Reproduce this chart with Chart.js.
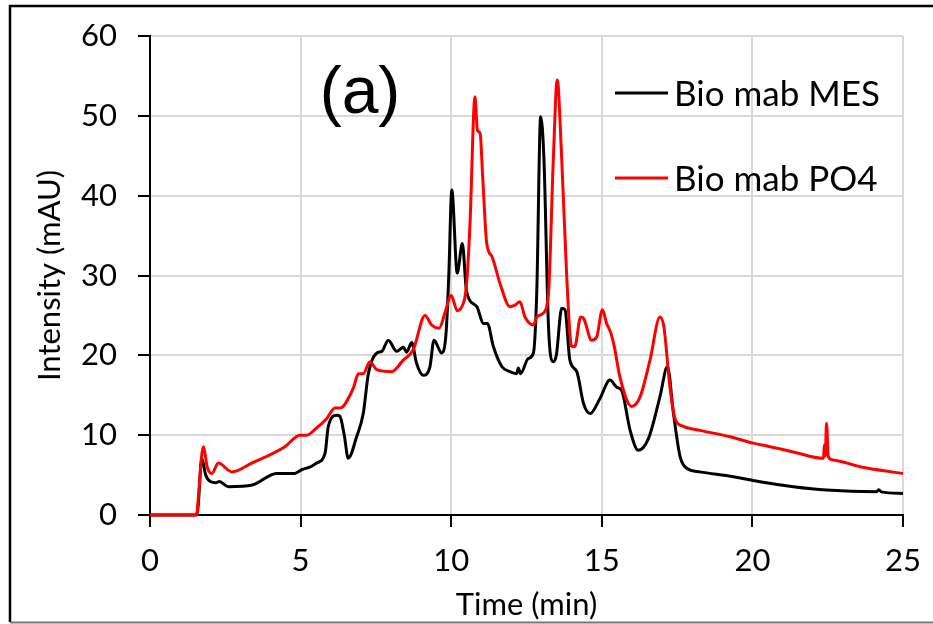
<!DOCTYPE html>
<html>
<head>
<meta charset="utf-8">
<script src="https://cdn.jsdelivr.net/npm/chart.js@4.4.1/dist/chart.umd.min.js"></script>
<style>
  html, body { margin: 0; padding: 0; background: #fff; }
  #wrap { position: relative; width: 933px; height: 624px; }
</style>
</head>
<body>
<div id="wrap"><canvas id="c" width="933" height="624"></canvas></div>
<script>
// ---- data ----
const seriesLabels = ['Bio mab MES', 'Bio mab PO4'];
const panelLabel = '(a)';
const xTitle = 'Time (min)';
const yTitle = 'Intensity (mAU)';

const mesTime = [0, 1.5, 1.58, 1.72, 1.85, 2.0, 2.2, 2.3, 2.6, 3.4, 4.2, 4.8, 5.05, 5.3, 5.53, 5.81, 5.92, 6.2, 6.3, 6.45, 6.58, 6.86, 7.08, 7.25, 7.53, 7.7, 7.91, 8.19, 8.41, 8.52, 8.69, 8.85, 9.07, 9.29, 9.43, 9.68, 9.83, 9.92, 10.02, 10.2, 10.37, 10.51, 10.85, 11.07, 11.2, 11.4, 11.68, 11.95, 12.17, 12.23, 12.3, 12.56, 12.73, 12.84, 12.97, 13.08, 13.23, 13.39, 13.49, 13.67, 13.78, 13.94, 14.17, 14.39, 14.61, 14.94, 15.27, 15.5, 15.66, 15.94, 16.21, 16.55, 16.93, 17.18, 17.38, 17.6, 17.82, 18.26, 19.37, 20.25, 21.36, 22.46, 24.12, 24.2, 24.28, 25];
const mesValue = [0, 0, 0.5, 7.1, 5.0, 4.2, 4.05, 4.2, 3.55, 3.76, 5.2, 5.2, 5.7, 6.0, 6.5, 7.7, 11.1, 12.5, 12.4, 10.0, 7.1, 9.8, 12.7, 17.7, 20.3, 20.5, 21.9, 20.5, 21.0, 20.4, 21.6, 19.0, 17.5, 18.5, 21.9, 20.3, 22.8, 30.0, 40.7, 30.3, 34.0, 28.0, 26.1, 24.0, 24.0, 21.1, 18.6, 17.95, 17.7, 18.4, 17.7, 19.6, 20.3, 27.8, 49.9, 44.5, 23.6, 19.2, 20.0, 25.9, 25.7, 19.4, 17.95, 14.0, 12.7, 14.6, 16.9, 16.0, 15.6, 10.6, 8.1, 9.6, 14.8, 18.6, 12.7, 7.3, 5.85, 5.4, 4.8, 4.17, 3.55, 3.13, 2.92, 3.15, 2.9, 2.7];

const po4Time = [0, 1.55, 1.6, 1.77, 1.9, 2.05, 2.27, 2.72, 3.38, 4.48, 4.98, 5.2, 5.53, 5.87, 6.14, 6.31, 6.75, 6.92, 7.08, 7.3, 7.53, 8.02, 8.41, 8.74, 9.13, 9.35, 9.6, 9.79, 10.0, 10.2, 10.34, 10.5, 10.62, 10.79, 10.87, 10.96, 11.05, 11.18, 11.35, 11.62, 11.95, 12.12, 12.28, 12.45, 12.73, 12.84, 13.06, 13.23, 13.39, 13.52, 13.67, 13.835, 14.0, 14.1, 14.3, 14.4, 14.66, 14.83, 15.02, 15.16, 15.3, 15.42, 15.6, 15.99, 16.27, 16.6, 16.93, 17.06, 17.26, 17.43, 17.71, 18.26, 19.26, 20.03, 20.58, 21.36, 22.36, 22.39, 22.42, 22.46, 22.52, 22.68, 23.57, 25];
const po4Value = [0, 0, 2.0, 8.56, 6.0, 5.2, 6.5, 5.4, 6.5, 8.56, 10.0, 10.0, 10.9, 12.1, 13.4, 13.4, 15.9, 17.7, 17.7, 19.2, 18.2, 17.95, 19.4, 20.7, 25.0, 23.8, 23.4, 25.3, 27.5, 25.6, 26.0, 28.5, 36.1, 52.4, 48.2, 47.8, 42.0, 34.0, 32.4, 29.0, 26.1, 26.3, 26.7, 24.8, 23.8, 24.8, 25.3, 27.8, 44.5, 54.5, 44.5, 29.9, 21.1, 21.1, 24.8, 24.6, 21.9, 22.3, 25.7, 24.0, 22.8, 21.0, 17.3, 13.6, 14.8, 19.4, 24.8, 23.6, 16.1, 12.1, 11.1, 10.6, 9.8, 9.0, 8.56, 7.9, 7.1, 8.8, 7.4, 11.5, 7.3, 6.9, 6.05, 5.2];

const xTicks = [0, 5, 10, 15, 20, 25];
const yTicks = [0, 10, 20, 30, 40, 50, 60];
const seriesColors = ['#000000', '#ff0000'];

function toPoints(ts, vs) { return ts.map((t, i) => ({ x: t, y: vs[i] })); }

// ---- drawing helpers (frame, panel label, in-plot legend) ----
const decor = {
  id: 'decor',
  afterDraw(chart) {
    const ctx = chart.ctx;
    ctx.save();
    ctx.strokeStyle = '#000';
    ctx.lineWidth = 2.5;
    ctx.beginPath();
    ctx.moveTo(940, 6); ctx.lineTo(10, 6); ctx.lineTo(10, 622);
    ctx.stroke();
    ctx.strokeStyle = '#777';
    ctx.lineWidth = 2;
    ctx.beginPath();
    ctx.moveTo(10, 622.5); ctx.lineTo(940, 622.5);
    ctx.stroke();
    ctx.fillStyle = '#000';
    ctx.font = '66px "Liberation Sans", Arial, sans-serif';
    ctx.textAlign = 'center';
    ctx.textBaseline = 'alphabetic';
    ctx.fillText(panelLabel, 360, 113);
    const rows = [93, 178];
    ctx.font = '35px Lato, sans-serif';
    ctx.textAlign = 'left';
    chart.data.datasets.forEach((ds, i) => {
      const y = rows[i];
      ctx.strokeStyle = ds.borderColor;
      ctx.lineWidth = 3;
      ctx.beginPath();
      ctx.moveTo(615, y); ctx.lineTo(668, y);
      ctx.stroke();
      ctx.fillStyle = '#000';
      ctx.fillText(ds.label, 674, y + 13);
    });
    ctx.restore();
  }
};

const FONT = 'Lato, sans-serif';
function zeroPad(s) { s.paddingTop = 0; s.paddingBottom = 0; s.paddingLeft = 0; s.paddingRight = 0; }

new Chart(document.getElementById('c'), {
  type: 'line',
  data: {
    datasets: [
      { label: seriesLabels[0], data: toPoints(mesTime, mesValue), borderColor: seriesColors[0], backgroundColor: seriesColors[0], order: 1 },
      { label: seriesLabels[1], data: toPoints(po4Time, po4Value), borderColor: seriesColors[1], backgroundColor: seriesColors[1], order: 0 }
    ]
  },
  options: {
    responsive: false,
    animation: false,
    devicePixelRatio: 1,
    layout: { padding: { top: 36, right: 30, left: 0, bottom: 0 } },
    elements: {
      point: { radius: 0 },
      line: { borderWidth: 3, cubicInterpolationMode: 'monotone', fill: false }
    },
    datasets: { line: { clip: false } },
    plugins: { legend: { display: false }, tooltip: { enabled: false } },
    scales: {
      x: {
        type: 'linear', min: 0, max: 25,
        afterFit(s) { s.height = 109; zeroPad(s); },
        afterBuildTicks(s) { s.ticks = xTicks.map(v => ({ value: v })); },
        ticks: { font: { family: FONT, size: 31 }, color: '#000', padding: 15, maxRotation: 0 },
        grid: { color: '#d9d9d9', lineWidth: 2, tickColor: '#000', tickLength: 12, tickWidth: 2 },
        border: { color: '#000', width: 2 },
        title: { display: true, text: xTitle, font: { family: FONT, size: 31 }, color: '#000', padding: { top: 9, bottom: 0 } }
      },
      y: {
        type: 'linear', min: 0, max: 60,
        afterFit(s) { s.width = 150; zeroPad(s); },
        afterBuildTicks(s) { s.ticks = yTicks.map(v => ({ value: v })); },
        ticks: { font: { family: FONT, size: 31 }, color: '#000', padding: 21 },
        grid: { color: '#d9d9d9', lineWidth: 2, tickColor: '#000', tickLength: 12, tickWidth: 2 },
        border: { color: '#000', width: 2 },
        title: { display: true, text: yTitle, font: { family: FONT, size: 31 }, color: '#000', padding: { top: 31, bottom: 0 } }
      }
    }
  },
  plugins: [decor]
});
</script>
</body>
</html>
